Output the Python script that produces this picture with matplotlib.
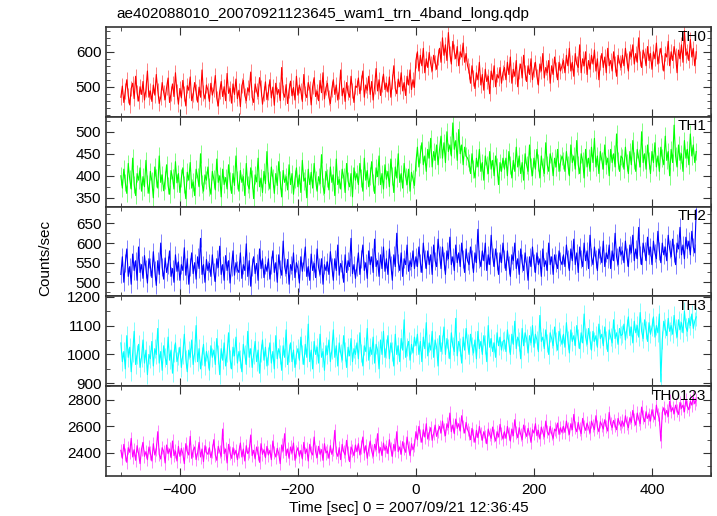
import numpy as np
import matplotlib.pyplot as plt
from matplotlib.ticker import MultipleLocator

plt.rcParams['font.family'] = ['Liberation Sans', 'DejaVu Sans']

# time bins (sec), 2.5 s wide
t_start = -500
t_step = 2.5

th0 = [470, 502, 455, 488, 520, 475, 448, 495, 510, 466, 530, 482, 459, 500, 478, 515, 462, 492, 545, 470,
       488, 458, 505, 476, 535, 490, 452, 470, 512, 484, 463, 498, 525, 455, 480, 508, 472, 540, 486, 450,
       495, 468, 518, 480, 445, 503, 490, 528, 460, 477, 512, 485, 456, 499, 470, 548, 482, 465, 505, 490,
       458, 510, 476, 493, 532, 467, 445, 487, 515, 472, 500, 460, 538, 481, 495, 453, 508, 478, 522, 466,
       490, 443, 503, 518, 475, 460, 497, 485, 542, 470, 455, 508, 488, 472, 526, 496, 450, 480, 514, 463,
       485, 520, 468, 499, 447, 510, 478, 492, 460, 555, 483, 470, 506, 452, 490, 516, 474, 498, 462, 530,
       476, 505, 488, 458, 535, 480, 469, 512, 494, 448, 501, 526, 472, 487, 460, 518, 483, 540, 465, 497,
       510, 470, 452, 493, 520, 478, 505, 462, 488, 548, 474, 496, 458, 512, 483, 470, 530, 489, 455, 502,
       498, 525, 480, 512, 545, 470, 505, 490, 530, 478, 515, 462, 500, 552, 488, 520, 475, 508, 536, 492,
       510, 485, 528, 470, 515, 560, 495, 480, 522, 500, 540, 488, 512, 475, 530, 505, 548, 492, 520, 498,
       575, 600, 545, 590, 560, 610, 540, 580, 555, 598, 565, 545, 590, 570, 550, 585,
       610, 570, 640, 590, 620, 575, 655, 595, 565, 630, 600, 580, 615, 560, 600, 585, 625, 570, 595, 560,
       545, 510, 560, 525, 495, 540, 520, 570, 505, 535, 490, 550, 515, 530, 480, 545, 520, 560, 500, 535,
       525, 555, 510, 540,
       555, 520, 570, 535, 585, 510, 550, 530, 575, 500, 545, 565, 525, 590, 540, 515, 560, 535, 580, 520,
       550, 570, 530, 505, 565, 545, 595, 525, 555, 540, 575, 510, 560, 535, 585, 550, 520, 570, 545, 560,
       575, 540, 590, 560, 610, 545, 570, 530, 595, 565, 555, 620, 540, 580, 560, 600, 535, 575, 550, 590,
       565, 605, 545, 580, 520, 570, 595, 555, 585, 540, 610, 560, 575, 545, 600, 565, 530, 590, 570, 555,
       590, 560, 610, 575, 545, 600, 585, 620, 565, 595, 570, 640, 580, 555, 605, 590, 560, 615, 575, 595,
       550, 600, 580, 625, 565, 590, 610, 570, 545, 595, 585, 630, 560, 600, 575, 615, 590, 540, 605, 580,
       620, 570, 660, 590, 600, 575, 635, 585, 610, 560, 600]

th1 = [400, 372, 415, 385, 360, 428, 392, 370, 440, 380, 355, 405, 390, 418, 365, 398, 375, 435, 382, 360,
       410, 388, 350, 420, 395, 372, 445, 385, 402, 366, 390, 425, 378, 358, 412, 396, 370, 432, 384, 405,
       362, 395, 418, 380, 348, 408, 390, 430, 372, 386, 355, 415, 398, 375, 450, 382, 365, 402, 390, 420,
       375, 358, 410, 392, 368, 438, 385, 400, 352, 415, 380, 396, 370, 425, 388, 360, 405, 378, 445, 390,
       365, 412, 385, 398, 355, 428, 380, 370, 418, 392, 348, 402, 386, 440, 375, 395, 362, 410, 382, 455,
       388, 370, 420, 395, 360, 405, 378, 432, 390, 352, 412, 385, 398, 368, 425, 380, 405, 358, 392, 418,
       375, 402, 362, 435, 388, 395, 350, 415, 380, 408, 372, 428, 390, 365, 398, 382, 448, 376, 360, 410,
       395, 368, 420, 385, 402, 355, 438, 380, 392, 370, 415, 398, 362, 428, 388, 375, 405, 352, 418, 390,
       405, 380, 428, 395, 365, 440, 390, 412, 375, 400, 432, 385, 360, 418, 398, 445, 380, 405, 370, 425,
       392, 410, 375, 438, 400, 362, 420, 395, 450, 385, 405, 372, 428, 398, 380, 415, 365, 408, 392, 378,
       430, 465, 420, 450, 475, 425, 445, 410, 460, 440, 485, 420, 455, 435, 470, 425,
       460, 490, 440, 475, 430, 500, 455, 470, 445, 520, 460, 480, 435, 505, 450, 470, 425, 465, 445, 440,
       430, 405, 450, 415, 395, 440, 420, 460, 410, 430, 390, 445, 425, 405, 455, 415, 435, 400, 445, 420,
       380, 430, 410, 440,
       415, 440, 400, 455, 425, 395, 435, 410, 465, 420, 445, 405, 430, 390, 450, 425, 410, 470, 420, 400,
       440, 415, 460, 430, 395, 445, 420, 405, 475, 425, 410, 450, 435, 400, 440, 420, 460, 410, 430, 445,
       435, 410, 455, 425, 400, 470, 430, 445, 415, 480, 425, 405, 450, 435, 395, 460, 420, 440, 410, 465,
       430, 485, 420, 445, 405, 455, 435, 415, 470, 425, 440, 400, 460, 430, 450, 420, 495, 435, 410, 445,
       440, 415, 465, 430, 405, 455, 425, 480, 435, 410, 460, 440, 420, 500, 430, 450, 415, 470, 435, 405,
       455, 430, 475, 420, 445, 410, 465, 440, 425, 490, 435, 455, 400, 460, 430, 515, 445, 420, 470, 435,
       450, 410, 480, 440, 460, 425, 495, 445, 470, 430, 455]

th2 = [520, 565, 500, 548, 585, 515, 540, 495, 572, 530, 555, 505, 590, 525, 545, 510, 568, 535, 498, 560,
       540, 512, 578, 530, 492, 555, 520, 600, 538, 508, 562, 525, 545, 580, 515, 535, 500, 570, 528, 552,
       505, 545, 530, 588, 518, 560, 495, 540, 575, 522, 550, 508, 565, 535, 612, 520, 545, 500, 558, 530,
       548, 515, 570, 525, 502, 560, 538, 592, 520, 545, 505, 568, 530, 555, 498, 540, 580, 518, 550, 532,
       525, 575, 510, 545, 530, 598, 515, 555, 490, 540, 565, 522, 548, 505, 585, 535, 560, 512, 545, 528,
       560, 508, 545, 580, 525, 550, 500, 570, 535, 518, 605, 540, 522, 558, 495, 545, 530, 575, 512, 550,
       535, 498, 565, 528, 552, 590, 515, 540, 505, 572, 530, 548, 512, 585, 538, 520, 560, 495, 545, 530,
       552, 520, 578, 540, 505, 560, 530, 595, 518, 548, 535, 500, 570, 525, 555, 540, 612, 522, 545, 510,
       540, 575, 520, 560, 595, 530, 550, 510, 580, 545, 565, 525, 610, 540, 555, 515, 570, 535, 590, 528,
       560, 520, 585, 545, 505, 570, 540, 625, 550, 530, 575, 515, 560, 545, 595, 528, 555, 540, 580, 535,
       565, 540, 590, 550, 525, 600, 560, 535, 580, 545, 570, 520, 595, 555, 540, 610,
       570, 535, 590, 555, 520, 580, 560, 615, 545, 565, 530, 595, 550, 575, 540, 600, 560, 525, 585, 555,
       545, 590, 560, 525, 575, 550, 635, 560, 540, 580, 555, 600, 530, 570, 545, 620, 565, 540, 585, 555,
       520, 575, 550, 600,
       560, 530, 580, 545, 515, 570, 555, 600, 535, 560, 520, 585, 550, 530, 575, 545, 505, 565, 540, 590,
       550, 525, 575, 545, 560, 515, 585, 540, 555, 530, 600, 545, 565, 520, 570, 550, 535, 580, 555, 545,
       570, 540, 595, 560, 530, 585, 555, 610, 545, 575, 525, 590, 560, 540, 600, 555, 580, 535, 620, 565,
       545, 590, 560, 530, 585, 570, 550, 605, 540, 575, 560, 595, 535, 580, 555, 625, 565, 545, 590, 570,
       580, 550, 605, 565, 540, 595, 575, 620, 555, 585, 560, 640, 570, 545, 600, 580, 555, 615, 570, 590,
       545, 605, 575, 560, 630, 580, 550, 600, 570, 590, 555, 620, 585, 565, 610, 575, 545, 600, 585, 640,
       570, 595, 560, 615, 585, 605, 570, 630, 590, 575, 685]

th3 = [1040, 975, 1010, 950, 1065, 990, 1025, 940, 1005, 1080, 965, 1000, 1035, 955, 990, 1050, 970, 1015, 930, 1000,
       985, 1045, 960, 1020, 1000, 1090, 970, 1010, 945, 1030, 990, 965, 1060, 980, 1015, 935, 1005, 1040, 975, 995,
       1025, 955, 1000, 1070, 985, 940, 1015, 990, 1050, 965, 1005, 1100, 975, 1020, 950, 995, 1035, 960, 1010, 985,
       945, 1030, 990, 1015, 965, 1055, 1000, 930, 1020, 980, 1040, 960, 1005, 1075, 985, 950, 1025, 995, 1060, 970,
       1010, 985, 940, 1035, 1000, 965, 1080, 990, 1020, 955, 1000, 1045, 975, 1015, 935, 1005, 1050, 980, 1025, 960,
       995, 1040, 970, 1010, 950, 1065, 985, 1020, 1000, 945, 1030, 990, 1085, 965, 1005, 1040, 975, 1015, 955, 1000,
       1020, 980, 1060, 1000, 965, 1035, 990, 1105, 975, 1015, 950, 1045, 1000, 1025, 970, 1070, 990, 1010, 945, 1030,
       1000, 1050, 975, 1015, 1085, 990, 1030, 960, 1040, 1005, 980, 1065, 1010, 955, 1025, 995, 1055, 975, 1020, 1000,
       1040, 985, 1075, 1005, 960, 1030, 1010, 1090, 980, 1025, 1000, 1060, 970, 1035, 1015, 950, 1050, 1000, 1080, 990,
       1020, 1065, 985, 1040, 1010, 960, 1070, 1000, 1030, 975, 1055, 1015, 1120, 990, 1025, 1045, 980, 1035, 1005, 1060,
       1030, 1070, 1000, 1045, 975, 1060, 1020, 1110, 995, 1040, 1015, 1080, 990, 1050, 1025, 960, 1065, 1010, 1035, 1095,
       1000, 1055, 1020, 985, 1075, 1030, 1010, 1125, 995, 1045, 1025, 970, 1060, 1015, 1090, 1040, 1000, 1070, 1030, 1005,
       1050, 985, 1080, 1020, 1045, 1000, 1065, 1035, 975, 1100, 1025, 1055, 1010, 1040, 990, 1075, 1030, 1060, 1015, 1045,
       1050, 1010, 1085, 1040, 1000, 1070, 1035, 1115, 1020, 1060, 1045, 985, 1090, 1030, 1075, 1055, 1005, 1065, 1040, 1100,
       1025, 1070, 1050, 1010, 1135, 1045, 1060, 1020, 1085, 1040, 1000, 1075, 1055, 1030, 1095, 1045, 1015, 1080, 1060, 1035,
       1070, 1025, 1110, 1050, 1005, 1085, 1045, 1065, 1030, 1100, 1055, 1020, 1075, 1040, 1140, 1060, 1035, 1090, 1050, 1015,
       1080, 1045, 1065, 1025, 1105, 1055, 1070, 1030, 1095, 1050, 1010, 1085, 1060, 1040, 1120, 1055, 1075, 1035, 1090, 1065,
       1070, 1105, 1050, 1090, 1130, 1065, 1095, 1040, 1115, 1075, 1100, 1060, 1145, 1080, 1055, 1120, 1085, 1045, 1110, 1070,
       1095, 1130, 1060, 1100, 1075, 1140, 905, 1050, 1115, 1090, 1065, 1125, 1080, 1100, 1070, 1135, 1090, 1060, 1120, 1085,
       1110, 1075, 1150, 1095, 1080, 1125, 1100, 1140, 1090, 1115, 1130]

th0123 = [2420, 2360, 2465, 2390, 2330, 2440, 2405, 2510, 2370, 2425, 2345, 2455, 2395, 2320, 2430, 2480, 2375, 2410, 2350, 2445,
          2400, 2340, 2470, 2385, 2425, 2560, 2390, 2355, 2440, 2410, 2325, 2460, 2395, 2430, 2365, 2490, 2380, 2415, 2340, 2450,
          2375, 2435, 2395, 2320, 2470, 2410, 2385, 2525, 2360, 2420, 2445, 2350, 2400, 2480, 2370, 2430, 2335, 2455, 2405, 2390,
          2440, 2365, 2415, 2500, 2385, 2345, 2450, 2410, 2375, 2580, 2395, 2430, 2325, 2465, 2400, 2360, 2440, 2385, 2420, 2350,
          2410, 2475, 2370, 2430, 2340, 2455, 2395, 2415, 2535, 2380, 2420, 2355, 2445, 2400, 2330, 2470, 2390, 2425, 2365, 2450,
          2385, 2420, 2350, 2490, 2405, 2370, 2435, 2395, 2320, 2460, 2415, 2545, 2380, 2430, 2360, 2445, 2400, 2475, 2345, 2410,
          2440, 2375, 2420, 2355, 2480, 2395, 2430, 2340, 2465, 2405, 2385, 2520, 2410, 2365, 2450, 2390, 2425, 2345, 2470, 2400,
          2415, 2360, 2455, 2390, 2430, 2570, 2405, 2375, 2440, 2350, 2465, 2410, 2385, 2495, 2400, 2335, 2445, 2420, 2380, 2460,
          2410, 2470, 2385, 2445, 2520, 2400, 2455, 2360, 2430, 2490, 2415, 2375, 2465, 2425, 2545, 2400, 2440, 2380, 2475, 2420,
          2450, 2395, 2500, 2430, 2375, 2465, 2420, 2560, 2410, 2445, 2390, 2485, 2435, 2405, 2520, 2440, 2380, 2470, 2425, 2455,
          2560, 2500, 2600, 2530, 2480, 2575, 2520, 2620, 2505, 2550, 2590, 2495, 2545, 2610, 2525, 2565,
          2600, 2550, 2640, 2575, 2530, 2620, 2590, 2700, 2560, 2610, 2545, 2655, 2585, 2620, 2565, 2680, 2600, 2550, 2630, 2575,
          2550, 2500, 2585, 2530, 2480, 2570, 2515, 2600, 2545, 2495, 2560, 2525, 2470, 2580, 2540, 2510, 2595, 2530, 2490, 2560,
          2520, 2615, 2545, 2505,
          2560, 2510, 2600, 2545, 2490, 2580, 2530, 2650, 2555, 2515, 2590, 2540, 2500, 2610, 2560, 2525, 2585, 2545, 2480, 2575,
          2550, 2620, 2530, 2570, 2505, 2595, 2555, 2520, 2640, 2560, 2535, 2600, 2545, 2510, 2580, 2565, 2625, 2540, 2590, 2555,
          2600, 2555, 2640, 2585, 2540, 2620, 2575, 2690, 2590, 2560, 2630, 2580, 2545, 2660, 2600, 2570, 2625, 2590, 2550, 2640,
          2605, 2575, 2680, 2595, 2560, 2635, 2610, 2580, 2650, 2600, 2565, 2705, 2620, 2590, 2645, 2610, 2575, 2660, 2625, 2600,
          2640, 2600, 2680, 2625, 2590, 2665, 2630, 2720, 2650, 2610, 2700, 2655, 2620, 2745, 2670, 2635, 2710, 2660, 2690, 2640,
          2725, 2680, 2650, 2760, 2690, 2660, 2490, 2705, 2740, 2685, 2720, 2675, 2790, 2710, 2740, 2695, 2760, 2720, 2690, 2780,
          2735, 2760, 2710, 2800, 2750, 2725, 2790, 2760, 2820, 2770, 2800]

names = ['TH0', 'TH1', 'TH2', 'TH3', 'TH0123']
series = [th0, th1, th2, th3, th0123]
errors = [22, 20, 23, 32, 50]  # approx 1-sigma error bar per bin
colors = ['#ff0000', '#00ff00', '#0000ff', '#00ffff', '#ff00ff']
light = ['#ff8080', '#80ff80', '#8080ff', '#80ffff', '#ff80ff']
ylims = [(414, 671), (330, 534), (464, 693), (890, 1201), (2227, 2902)]
major = [100, 50, 50, 100, 200]
minor = [20, 25, 25, 50, 100]

fig, axes = plt.subplots(5, 1, figsize=(7.17, 5.16), dpi=100, sharex=True)
fig.subplots_adjust(left=0.148, right=0.9916, top=0.9477, bottom=0.0775, hspace=0)

for i, ax in enumerate(axes):
    y = np.array(series[i])
    t = t_start + t_step * np.arange(len(y))
    ax.vlines(t, y - errors[i], y + errors[i], color=light[i], lw=0.7)
    ax.plot(t, y, color=colors[i], lw=0.8)
    ax.set_ylim(*ylims[i])
    ax.set_xlim(-525, 500)
    ax.yaxis.set_major_locator(MultipleLocator(major[i]))
    ax.yaxis.set_minor_locator(MultipleLocator(minor[i]))
    ax.xaxis.set_major_locator(MultipleLocator(200))
    ax.xaxis.set_minor_locator(MultipleLocator(100))
    ax.tick_params(which='both', direction='in', top=True, right=True, labelsize=11, colors='#333333', labelcolor='black')
    ax.tick_params(which='major', length=6)
    ax.tick_params(which='minor', length=3)
    ax.tick_params(axis='x', pad=5)
    for s in ax.spines.values():
        s.set_color('#333333')
        s.set_linewidth(1.2)
    ax.text(0.992, 0.97, names[i], transform=ax.transAxes, ha='right', va='top', fontsize=11)

axes[-1].set_xlabel('Time [sec] 0 = 2007/09/21 12:36:45', fontsize=11, labelpad=3)
fig.text(0.063, 0.5, 'Counts/sec', rotation=90, ha='center', va='center', fontsize=11)
fig.text(0.163, 0.972, 'ae402088010_20070921123645_wam1_trn_4band_long.qdp', ha='left', va='center', fontsize=11)

fig.savefig('out.png')
